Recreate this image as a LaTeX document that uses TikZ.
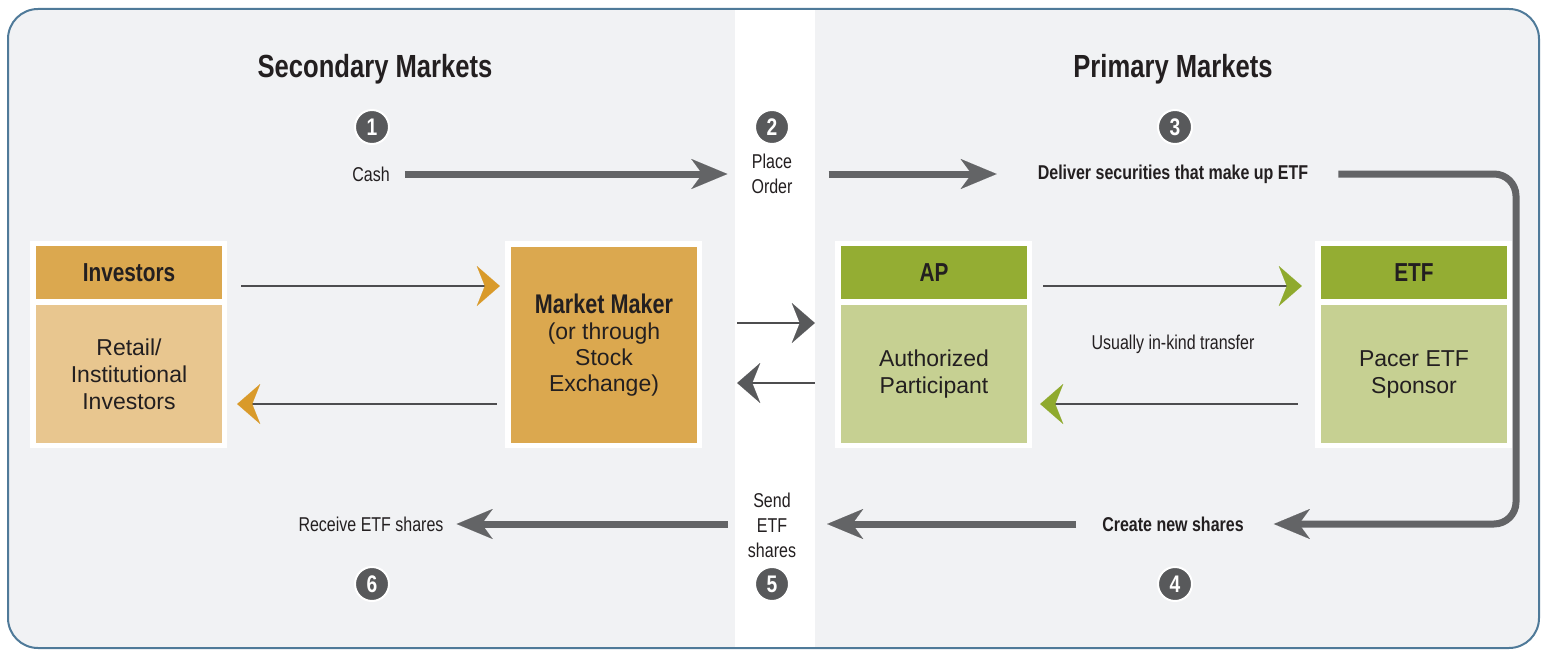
\documentclass[tikz,border=0pt]{standalone}
\usepackage{fontspec}
\setmainfont{Liberation Sans}
\newfontfamily\condfont[FakeStretch=0.8]{Liberation Sans}
\usetikzlibrary{arrows.meta}

\definecolor{panelbg}{HTML}{F1F2F4}
\definecolor{panelrim}{HTML}{4F7A99}
\definecolor{ink}{HTML}{231F20}
\definecolor{flowgray}{HTML}{636466}
\definecolor{numgray}{HTML}{58595B}
\definecolor{thingray}{HTML}{4D4D4F}
\definecolor{goldhead}{HTML}{DBA84F}
\definecolor{goldbody}{HTML}{E8C68F}
\definecolor{goldtip}{HTML}{D99A2A}
\definecolor{greenhead}{HTML}{94AD33}
\definecolor{greenbody}{HTML}{C6D092}
\definecolor{greentip}{HTML}{8FAA2E}

\tikzset{
  x=1pt, y=-1pt,
  title/.style={font=\condfont\bfseries\fontsize{32}{36}\selectfont, text=ink},
  lbl/.style={font=\condfont\fontsize{20}{25}\selectfont, text=ink, align=center, inner sep=0pt},
  boldlbl/.style={font=\condfont\bfseries\fontsize{20}{25}\selectfont, text=ink, inner sep=0pt},
  num/.style={circle, fill=numgray, draw=white, line width=2pt, minimum size=34pt, inner sep=0pt,
    text=white, font=\condfont\bfseries\fontsize{24}{24}\selectfont},
  frame/.style={fill=white, minimum width=197pt, minimum height=207pt, inner sep=0pt},
  headbox/.style={minimum width=186pt, minimum height=53pt, inner sep=0pt, text=ink,
    font=\condfont\bfseries\fontsize{26}{28}\selectfont},
  bodybox/.style={minimum width=186pt, minimum height=138pt, inner sep=0pt, text=ink, align=center,
    font=\fontsize{23}{27}\selectfont},
  bigflow/.style={draw=flowgray, line width=7pt,
    -{Stealth[length=36pt, width=30pt, inset=11pt, line width=0.01pt, color=flowgray]}},
  thinflow/.style={draw=thingray, line width=1.8pt},
  goldarrow/.style={thinflow, -{Stealth[length=23pt, width=40pt, inset=8pt, line width=0.01pt, color=goldtip]}},
  greenarrow/.style={thinflow, -{Stealth[length=23pt, width=40pt, inset=8pt, line width=0.01pt, color=greentip]}},
  grayarrow/.style={thinflow, -{Stealth[length=23pt, width=40pt, inset=8pt, line width=0.01pt, color=numgray]}},
}

\begin{document}
\begin{tikzpicture}
\useasboundingbox (0,0) rectangle (1547,650);

% panel and the central white band
\fill[panelbg, rounded corners=30pt] (8,9) rectangle (1539,648);
\fill[white] (735,10) rectangle (815,647);
\draw[panelrim, line width=2pt, rounded corners=30pt] (8,9) rectangle (1539,648);

% headings
\node[title] (sec) at (375,69) {Secondary Markets};
\node[title] (pri) at (1173,69) {Primary Markets};

% step numbers
\node[num] (n1) at (372,127) {1};
\node[num] (n2) at (772,127) {2};
\node[num] (n3) at (1175,127) {3};
\node[num] (n4) at (1175,584) {4};
\node[num] (n5) at (772,584) {5};
\node[num] (n6) at (372,584) {6};

% flow labels
\node[lbl] (cash) at (371,174) {Cash};
\node[lbl] (place) at (772,174) {Place\\Order};
\node[boldlbl] (deliver) at (1173,174) {Deliver securities that make up ETF};
\node[boldlbl] (create) at (1173,524) {Create new shares};
\node[lbl] (send) at (772,525) {Send\\ETF\\shares};
\node[lbl] (receive) at (371,524) {Receive ETF shares};
\node[lbl] (inkind) at (1173,344) {Usually in-kind transfer};

% investors
\node[frame] (invf) at (128.5,344.5) {};
\node[headbox, fill=goldhead] (invh) at (129,272.5) {Investors};
\node[bodybox, fill=goldbody] (invb) at (129,374) {Retail/\\Institutional\\Investors};

% market maker
\node[frame] (mmf) at (603.5,344.5) {};
\node[minimum width=186pt, minimum height=196pt, inner sep=0pt, fill=goldhead, text=ink, align=center,
  font=\fontsize{23}{26}\selectfont] (mm) at (604,345)
  {{\condfont\bfseries\fontsize{27}{28}\selectfont Market Maker}\\(or through\\Stock\\Exchange)};

% authorized participant
\node[frame] (apf) at (933.5,344.5) {};
\node[headbox, fill=greenhead] (aph) at (934,272.5) {AP};
\node[bodybox, fill=greenbody] (apb) at (934,374) {Authorized\\Participant};

% ETF sponsor
\node[frame] (etff) at (1413.5,344.5) {};
\node[headbox, fill=greenhead] (etfh) at (1414,272.5) {ETF};
\node[bodybox, fill=greenbody] (etfb) at (1414,374) {Pacer ETF\\Sponsor};

% thick process arrows
\draw[bigflow, shorten <=15pt, shorten >=24pt] (cash.east) -- (place.west);
\draw[bigflow, shorten <=36pt, shorten >=41pt] (place.east |- cash.east) -- (deliver.west);
\coordinate (turn) at (1516,350);
\draw[bigflow, rounded corners=22pt, shorten <=30pt, shorten >=30pt]
  (deliver.east) -| (turn) |- (create.east);
\draw[bigflow, shorten <=26pt, shorten >=31pt] (create.west) -- (send.east |- create.west);
\draw[bigflow, shorten <=20pt, shorten >=13pt] (send.west |- receive.east) -- (receive.east);

% thin transfer arrows
\draw[goldarrow, shorten <=14pt, shorten >=5pt] (invf.east |- 0,286) -- (mmf.west |- 0,286);
\draw[goldarrow, shorten <=8pt, shorten >=10pt] (mmf.west |- 0,404) -- (invf.east |- 0,404);
\draw[grayarrow, shorten <=35pt, shorten >=20pt] (mmf.east |- 0,323) -- (apf.west |- 0,323);
\draw[grayarrow, shorten <=20pt, shorten >=35pt] (apf.west |- 0,383) -- (mmf.east |- 0,383);
\draw[greenarrow, shorten <=11pt, shorten >=13pt] (apf.east |- 0,286) -- (etff.west |- 0,286);
\draw[greenarrow, shorten <=17pt, shorten >=8pt] (etff.west |- 0,404) -- (apf.east |- 0,404);
\end{tikzpicture}
\end{document}
